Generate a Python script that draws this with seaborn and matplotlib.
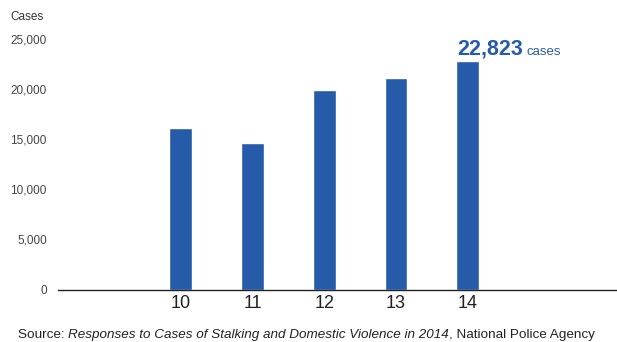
import matplotlib
matplotlib.use("Agg")
import matplotlib.pyplot as plt
import seaborn as sns
import pandas as pd

years = ["10", "11", "12", "13", "14"]
cases = [16176, 14618, 19920, 21089, 22823]
y_ticks = [0, 5000, 10000, 15000, 20000, 25000]

BLUE = "#265BA9"

sns.set_theme(style="white")
plt.rcParams["font.family"] = ["Liberation Sans", "DejaVu Sans"]

df = pd.DataFrame({"year": years, "cases": cases})

W, H = 617, 342
fig = plt.figure(figsize=(W / 100, H / 100), dpi=100)
ax = fig.add_axes([58 / W, 52.5 / H, 1 - 58 / W, 250.3 / H])

sns.barplot(data=df, x="year", y="cases", order=years, color=BLUE,
            saturation=1, width=0.32, ax=ax)

ax.set_xlim(-1.71, 6.08)
ax.set_ylim(0, 25000)
ax.set_yticks(y_ticks)
ax.set_yticklabels([f"{v:,}" for v in y_ticks], fontsize=8.5, color="#444444")
ax.tick_params(axis="y", length=0, pad=8)
ax.tick_params(axis="x", length=0, pad=4, labelsize=13, labelcolor="#222222")
ax.set_xlabel("")
ax.set_ylabel("")
for side in ["left", "right", "top"]:
    ax.spines[side].set_visible(False)
ax.spines["bottom"].set_color("#222222")
ax.spines["bottom"].set_linewidth(1.0)

# highlight latest value above its bar
last = len(cases) - 1
t = ax.annotate(f"{cases[last]:,}", xy=(last, cases[last]), xytext=(-7.5, 4.5),
                textcoords="offset points", ha="left", va="baseline",
                fontsize=15.5, fontweight="bold", color=BLUE, annotation_clip=False)
fig.canvas.draw()
bb = t.get_window_extent()
ax.annotate("cases", xy=(last, cases[last]), xytext=(bb.x1 - ax.transData.transform((last, 0))[0] + 3.5, 4.5 * 100 / 72),
            textcoords="offset pixels", ha="left", va="baseline",
            fontsize=9.5, color=BLUE, annotation_clip=False)

fig.text(10 / W, 1 - 17 / H, "Cases", fontsize=8.5, color="#333333",
         ha="left", va="center")

src = [("Source: ", "normal"),
       ("Responses to Cases of Stalking and Domestic Violence in 2014", "italic"),
       (", National Police Agency", "normal")]
x = 18
for s, style in src:
    txt = fig.text(x / W, 1 - 335 / H, s, fontsize=9.7, color="#222222",
                   ha="left", va="center", style=style)
    fig.canvas.draw()
    x = txt.get_window_extent().x1

fig.savefig("out.png", dpi=100)
